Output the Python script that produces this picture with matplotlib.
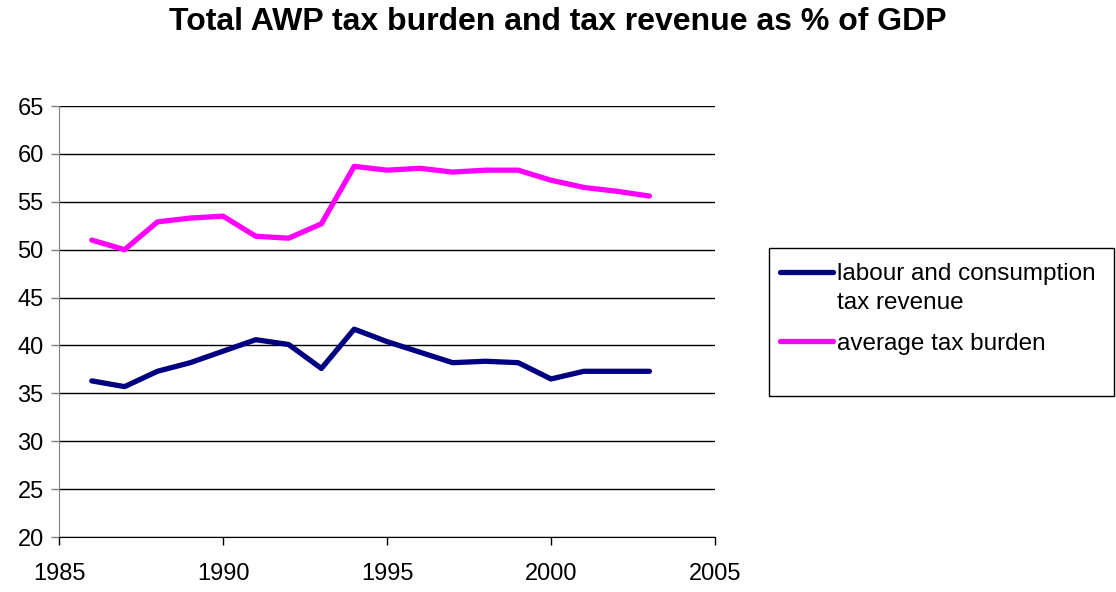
import matplotlib
matplotlib.use("Agg")
import matplotlib.pyplot as plt
from matplotlib.patches import Rectangle
from matplotlib.legend_handler import HandlerLine2D

# ---------------------------------------------------------------------------
# Data
# ---------------------------------------------------------------------------
years = list(range(1986, 2004))

labour_consumption = [36.3, 35.7, 37.3, 38.2, 39.4, 40.6, 40.1, 37.6, 41.7,
                      40.4, 39.3, 38.2, 38.35, 38.2, 36.5, 37.3, 37.3, 37.3]
avg_tax_burden = [51.0, 50.0, 52.9, 53.3, 53.5, 51.4, 51.2, 52.7, 58.7,
                  58.3, 58.5, 58.1, 58.3, 58.3, 57.25, 56.5, 56.1, 55.6]

series_labels = ["labour and consumption\ntax revenue", "average tax burden"]
title = "Total AWP tax burden and tax revenue as % of GDP"

NAVY = "#000080"
MAGENTA = "#FF00FF"

plt.rcParams["font.family"] = ["Liberation Sans", "DejaVu Sans"]


class FirstLineHandler(HandlerLine2D):
    """Put the legend line next to the first text line (Excel style)."""

    def __init__(self, shift, **kw):
        super().__init__(**kw)
        self.shift = shift

    def create_artists(self, *args, **kwargs):
        artists = super().create_artists(*args, **kwargs)
        for a in artists:
            a.set_ydata([y + self.shift for y in a.get_ydata()])
        return artists


fig = plt.figure(figsize=(11.16, 5.92), dpi=100)
ax = fig.add_axes([59 / 1116, 1 - 537 / 592, (715 - 59) / 1116, (537 - 106) / 592])

line1, = ax.plot(years, labour_consumption, color=NAVY, linewidth=3.8,
                 solid_joinstyle="round", solid_capstyle="round",
                 label=series_labels[0])
line2, = ax.plot(years, avg_tax_burden, color=MAGENTA, linewidth=3.8,
                 solid_joinstyle="round", solid_capstyle="round",
                 label=series_labels[1])

ax.set_xlim(1985, 2005)
ax.set_ylim(20, 65)
ax.set_xticks(range(1985, 2006, 5))
ax.set_yticks(range(20, 66, 5))
ax.grid(axis="y", color="black", linewidth=1.0)
ax.set_axisbelow(True)

for side in ["top", "right"]:
    ax.spines[side].set_visible(False)
ax.spines["left"].set_color("#808080")
ax.spines["bottom"].set_color("black")
ax.tick_params(axis="both", direction="out", length=6, width=1,
               labelsize=17, colors="black")
ax.tick_params(axis="y", color="#808080", pad=5)
ax.tick_params(axis="x", pad=13)

fig.text(0.5, 1 - 22 / 592, title, ha="center", va="center",
         fontsize=23, fontweight="bold")

# legend with a fixed-size frame like the original
fig.patches.append(Rectangle((769 / 1116, 1 - 396 / 592), (1114 - 769) / 1116,
                             (396 - 248) / 592, transform=fig.transFigure,
                             fill=False, edgecolor="black", linewidth=1.0))
leg = fig.legend(handles=[line1, line2], loc="upper left",
                 bbox_to_anchor=(770 / 1116, 1 - 253 / 592),
                 frameon=False, fontsize=17.5, handlelength=2.2,
                 handletextpad=0.15, labelspacing=0.75, borderaxespad=0,
                 handler_map={line1: FirstLineHandler(shift=12)})
leg.get_texts()[0].set_linespacing(1.45)

fig.savefig("out.png", dpi=100)
